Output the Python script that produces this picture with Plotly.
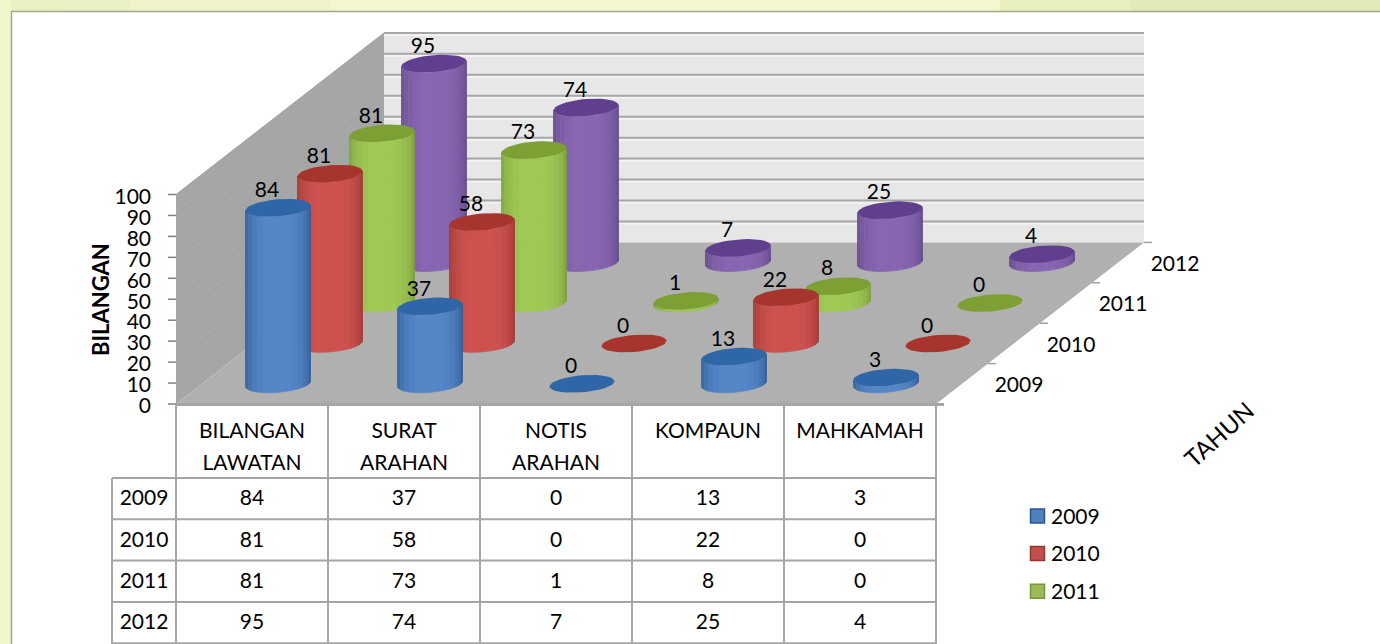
import math
import plotly.graph_objects as go

# ---- data ----
categories = [["BILANGAN", "LAWATAN"], ["SURAT", "ARAHAN"], ["NOTIS", "ARAHAN"], ["KOMPAUN"], ["MAHKAMAH"]]
years = ["2009", "2010", "2011", "2012"]
v2009 = [84, 37, 0, 13, 3]
v2010 = [81, 58, 0, 22, 0]
v2011 = [81, 73, 1, 8, 0]
v2012 = [95, 74, 7, 25, 4]
y_ticks = [0, 10, 20, 30, 40, 50, 60, 70, 80, 90, 100]
legend_years = ["2009", "2010", "2011"]
series = [v2009, v2010, v2011, v2012]

# (light, edge, top) colours per series
palette = [
    ((84, 134, 200), (44, 84, 140), (46, 102, 168)),
    ((205, 82, 78), (150, 52, 48), (168, 52, 46)),
    ((160, 200, 84), (118, 150, 58), (124, 160, 52)),
    ((136, 102, 178), (92, 68, 128), (96, 64, 142)),
]

# ---- oblique projection: (category, depth, value) -> page position ----
X0, Y0 = 176.0, 404.0
CAT_W = 152.0
DEPTH_X, DEPTH_Y = 52.0, -40.4
UNIT = 2.095
RX, RY, TILT = 32.5, 8.5, 0.08


def proj(cat, depth, val=0.0):
    return X0 + cat * CAT_W + depth * DEPTH_X, Y0 + depth * DEPTH_Y - val * UNIT


C0 = proj(0, 0)
C1 = proj(5, 0)
B0 = proj(0, 4)
B1 = proj(5, 4)
LINE = "#a6a6a6"

fig = go.Figure()
shapes = []


def rect(x0, y0, x1, y1, fill, line=None, width=0):
    shapes.append(dict(type="rect", x0=x0, y0=y0, x1=x1, y1=y1, fillcolor=fill, layer="below",
                       line=dict(color=line or fill, width=width)))


def seg(x0, y0, x1, y1, color=LINE, width=2, layer="below"):
    shapes.append(dict(type="line", x0=x0, y0=y0, x1=x1, y1=y1, layer=layer,
                       line=dict(color=color, width=width)))


def area(pts, fill):
    path = "M " + " L ".join("%.2f,%.2f" % p for p in pts) + " Z"
    shapes.append(dict(type="path", path=path, fillcolor=fill, layer="below", line=dict(width=0)))


def poly(pts, fill, seam=0.0):
    fig.add_trace(go.Scatter(x=[p[0] for p in pts] + [pts[0][0]], y=[p[1] for p in pts] + [pts[0][1]],
                             mode="lines", fill="toself", fillcolor=fill,
                             line=dict(width=seam, color=fill),
                             hoverinfo="skip", showlegend=False))


# mottled page edge
rect(0, 0, 60, 11, "#e9f0c2")
rect(60, 0, 130, 11, "#ecf1c5")
rect(130, 0, 330, 11, "#f0f3c9")
rect(1000, 0, 1130, 11, "#eaefc0")
rect(1130, 0, 1380, 11, "#e3eab9")
rect(0, 0, 11, 644, "#f1f5cc")

# panel
rect(11.5, 11.5, 1400, 700, "#ffffff", "#a3a68e", 1.5)

# chart walls and floor
area([C0, proj(0, 0, 100), proj(0, 4, 100), B0], "#a6a6a6")
area([B0, proj(0, 4, 100), proj(5, 4, 100), B1], "#e7e7e7")
area([C0, C1, B1, B0], "#b0b0b0")
for v in y_ticks:
    a, b, c = proj(0, 0, v), proj(0, 4, v), proj(5, 4, v)
    if v > 0:
        seg(a[0], a[1], b[0], b[1], "#a0a0a0", 1)
        seg(b[0], b[1] + 2, c[0], c[1] + 2, "#f4f4f4", 2)
        seg(b[0], b[1], c[0], c[1], "#a6a6a6", 2)
    seg(a[0] - 8, a[1], a[0], a[1], "#808080", 1.5)
for d in range(5):
    p = proj(5, d)
    seg(p[0], p[1], p[0] + 8, p[1], "#a0a0a0", 1.5)

# data table
TOP, HEAD, ROW_H = 404.5, 478.0, 41.3
LEFT = 112.0
for i in range(6):
    x = X0 + i * CAT_W
    seg(x, TOP, x, 660)
seg(LEFT, HEAD, LEFT, 660)
seg(X0, TOP, C1[0] + 8, TOP, "#a6a6a6", 3)
for r in range(5):
    y = HEAD + r * ROW_H
    seg(LEFT, y, C1[0], y)


def shade(col_light, col_edge, f):
    return "rgb(%d,%d,%d)" % tuple(round(e + (l - e) * f) for l, e in zip(col_light, col_edge))


N = 14


def ring(cx, cy, a0, a1, n):
    # points along the tilted ellipse, from angle a0 to a1 (front half has positive sine)
    pts = []
    for i in range(n + 1):
        a = a0 + (a1 - a0) * i / n
        pts.append((cx + RX * math.cos(a), cy + RY * math.sin(a) - TILT * RX * math.cos(a)))
    return pts


def cylinder(cat, depth, val, colors):
    light, edge, top = colors
    cx, by = proj(cat + 0.5, depth)
    ty = by - val * UNIT
    if val > 0:
        for i in range(N):
            a0 = math.pi - math.pi * i / N
            a1 = math.pi - math.pi * (i + 1) / N
            mid = (i + 0.5) / N
            f = min(1.0, math.sin(math.pi * mid) ** 0.8 * 1.05)
            strip = ring(cx, by, a0, a1, 2) + ring(cx, ty, a1, a0, 2)
            poly(strip, shade(light, edge, f), seam=0.7)
    poly(ring(cx, ty, 0, 2 * math.pi, 40), "rgb(%d,%d,%d)" % top)


# back row first, so that nearer cylinders cover farther ones
for s in range(3, -1, -1):
    for c in range(5):
        cylinder(c, s + 0.5, series[s][c], palette[s])

# data labels on the cylinders
lx, ly, lt = [], [], []
for s in range(4):
    for c in range(5):
        p = proj(c + 0.5, s + 0.5, series[s][c])
        lx.append(p[0] - 11)
        ly.append(p[1] - 16)
        lt.append(str(series[s][c]))
FONT = "Lato, 'Open Sans', sans-serif"
FS = 21
fig.add_trace(go.Scatter(x=lx, y=ly, text=lt, mode="text", textposition="middle center",
                         textfont=dict(family=FONT, size=FS, color="#000000"),
                         hoverinfo="skip", showlegend=False))

# value axis labels
fig.add_trace(go.Scatter(x=[C0[0] - 25] * len(y_ticks), y=[proj(0, 0, v)[1] + 4 for v in y_ticks],
                         text=[str(v) for v in y_ticks], mode="text", textposition="middle left",
                         textfont=dict(family=FONT, size=FS, color="#000000"),
                         hoverinfo="skip", showlegend=False))
# depth axis labels
fig.add_trace(go.Scatter(x=[proj(5, d + 0.5)[0] + 57 for d in range(4)],
                         y=[proj(5, d + 0.5)[1] + 3 for d in range(4)],
                         text=years, mode="text", textposition="middle center",
                         textfont=dict(family=FONT, size=FS, color="#000000"),
                         hoverinfo="skip", showlegend=False))

# table text
tx, ty, tt = [], [], []
for c, lines in enumerate(categories):
    x = X0 + (c + 0.5) * CAT_W
    for k, t in enumerate(lines):
        tx.append(x)
        ty.append(433 + 32 * k)
        tt.append(t)
    for s in range(4):
        tx.append(x)
        ty.append(HEAD + (s + 0.5) * ROW_H + 1.5)
        tt.append(str(series[s][c]))
for s in range(4):
    tx.append((LEFT + X0) / 2)
    ty.append(HEAD + (s + 0.5) * ROW_H + 1.5)
    tt.append(years[s])
fig.add_trace(go.Scatter(x=tx, y=ty, text=tt, mode="text", textposition="middle center",
                         textfont=dict(family=FONT, size=FS, color="#000000"),
                         hoverinfo="skip", showlegend=False))

# legend
for i, name in enumerate(legend_years):
    y = 516 + i * 37.6
    light, edge, _ = palette[i]
    fig.add_trace(go.Scatter(x=[1037.5], y=[y], mode="markers",
                             marker=dict(symbol="square", size=14, color=["#4f81bd", "#c0504d", "#9bbb59"][i],
                                         line=dict(color="rgb(%d,%d,%d)" % edge, width=1.5)),
                             hoverinfo="skip", showlegend=False, name=name))
    fig.add_trace(go.Scatter(x=[1051], y=[y + 2.5], mode="text", text=[name],
                             textposition="middle right",
                             textfont=dict(family=FONT, size=FS, color="#000000"),
                             hoverinfo="skip", showlegend=False))

fig.update_layout(
    width=1380, height=644, margin=dict(l=0, r=0, t=0, b=0), autosize=False,
    paper_bgcolor="#f4f7cf", plot_bgcolor="rgba(0,0,0,0)", showlegend=False,
    xaxis=dict(range=[0, 1380], visible=False, fixedrange=True),
    yaxis=dict(range=[644, 0], visible=False, fixedrange=True),
    shapes=shapes,
    annotations=[
        dict(x=100, y=300, xref="x", yref="y", text="<b>BILANGAN</b>", textangle=-90, showarrow=False,
             font=dict(family=FONT, size=22, color="#000000")),
        dict(x=1218, y=434, xref="x", yref="y", text="TAHUN", textangle=-42, showarrow=False,
             font=dict(family=FONT, size=24, color="#000000")),
    ],
)
fig.write_html("out.html", config=dict(displayModeBar=False),
               post_script="document.body.style.margin='0';document.documentElement.style.overflow='hidden';")
